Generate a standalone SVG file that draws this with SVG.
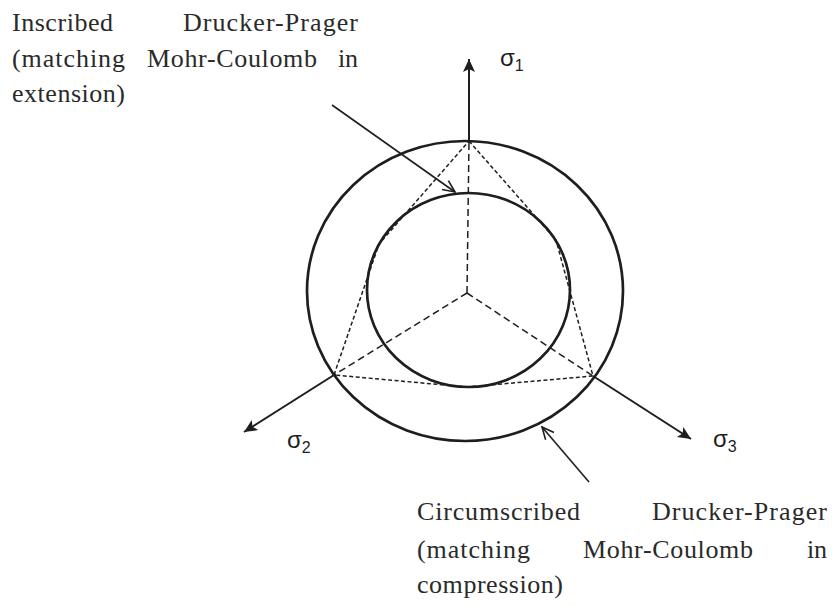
<svg xmlns="http://www.w3.org/2000/svg" width="832" height="606" viewBox="0 0 832 606">
<style>
.ring{fill:none;stroke:#1e1e1e;stroke-width:2.7}
.hex{fill:none;stroke:#1e1e1e;stroke-width:1.5;stroke-dasharray:4 2.5}
.ctr{fill:none;stroke:#1e1e1e;stroke-width:1.5;stroke-dasharray:7 4}
.axis{stroke:#1e1e1e;stroke-width:2;fill:none}
.ptr{stroke:#1e1e1e;stroke-width:1.6;fill:none}
.txt text{font-family:"Liberation Serif","Times New Roman",serif;font-size:26px;fill:#2a2a2a}
.sig{font-family:"Liberation Sans",Arial,sans-serif;font-size:24px;fill:#1e1e1e}
.sub{font-size:16px}
</style>
<defs>
<marker id="solid" viewBox="-1 -7 15 14" refX="13" refY="0" markerWidth="15" markerHeight="14" markerUnits="userSpaceOnUse" orient="auto">
<path d="M0,-6 L13,0 L0,6 L3,0 z" fill="#1e1e1e"/>
</marker>
<marker id="open" viewBox="-1 -7 14 14" refX="12" refY="0" markerWidth="14" markerHeight="14" markerUnits="userSpaceOnUse" orient="auto">
<path d="M0,-5.5 L12,0 L0,5.5" fill="none" stroke="#1e1e1e" stroke-width="1.6"/>
</marker>
</defs>
<g id="outer-circle"><ellipse class="ring" cx="465" cy="291" rx="158" ry="150"/></g>
<g id="inner-circle"><ellipse class="ring" cx="468.5" cy="290" rx="101.5" ry="97"/></g>
<g id="mohr-coulomb"><polygon class="hex" points="469,141 556,240 593,376 467,387 334,375 379,244"/></g>
<g id="center-lines">
<line class="ctr" x1="467" y1="293" x2="469" y2="141"/>
<line class="ctr" x1="467" y1="293" x2="334" y2="375"/>
<line class="ctr" x1="467" y1="293" x2="593" y2="376"/>
</g>
<g id="connectors">
<line class="axis" x1="469" y1="141" x2="469" y2="59" marker-end="url(#solid)"/>
<line class="axis" x1="334" y1="375" x2="244" y2="432" marker-end="url(#solid)"/>
<line class="axis" x1="593" y1="376" x2="691" y2="439" marker-end="url(#solid)"/>
<line class="ptr" x1="332" y1="105" x2="455" y2="192" marker-end="url(#open)"/>
<line class="ptr" x1="589" y1="482" x2="542" y2="427" marker-end="url(#open)"/>
</g>
<g id="sigma1"><text class="sig" x="500" y="66">σ<tspan class="sub" dy="5">1</tspan></text></g>
<g id="sigma2"><text class="sig" x="287" y="448">σ<tspan class="sub" dy="5">2</tspan></text></g>
<g id="sigma3"><text class="sig" x="713" y="447">σ<tspan class="sub" dy="5">3</tspan></text></g>
<g id="label-inscribed" class="txt">
<text x="12" y="31" textLength="101" lengthAdjust="spacing">Inscribed</text>
<text x="183" y="31" textLength="175" lengthAdjust="spacing">Drucker-Prager</text>
<text x="12" y="67" textLength="113" lengthAdjust="spacing">(matching</text>
<text x="147" y="67" textLength="170" lengthAdjust="spacing">Mohr-Coulomb</text>
<text x="338" y="67" textLength="20" lengthAdjust="spacing">in</text>
<text x="12" y="102" textLength="113" lengthAdjust="spacing">extension)</text>
</g>
<g id="label-circumscribed" class="txt">
<text x="417" y="520" textLength="163" lengthAdjust="spacing">Circumscribed</text>
<text x="652" y="520" textLength="175" lengthAdjust="spacing">Drucker-Prager</text>
<text x="417" y="558" textLength="113" lengthAdjust="spacing">(matching</text>
<text x="583" y="558" textLength="170" lengthAdjust="spacing">Mohr-Coulomb</text>
<text x="807" y="558" textLength="20" lengthAdjust="spacing">in</text>
<text x="417" y="593" textLength="146" lengthAdjust="spacing">compression)</text>
</g>
</svg>
